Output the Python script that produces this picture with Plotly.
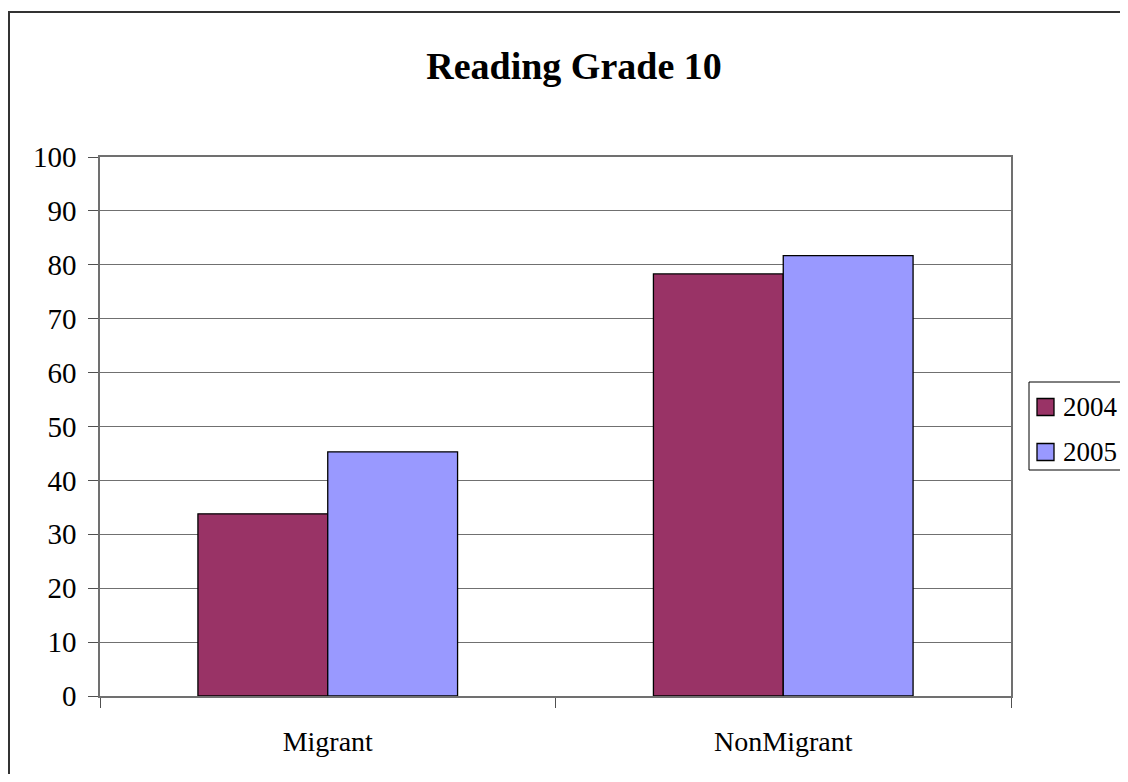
import plotly.graph_objects as go

categories = ["Migrant", "NonMigrant"]
series_names = ["2004", "2005"]
values_2004 = [33.8, 78.3]
values_2005 = [45.3, 81.7]
colors = ["#993366", "#9999FF"]
y_ticks = [0, 10, 20, 30, 40, 50, 60, 70, 80, 90, 100]

# figure is placed by the page with an 8px body margin
W, H = 1112, 766
L, R, T, B = 92, 109, 149, 78
pw, ph = W - L - R, H - T - B


def px(fx):
    return (fx - L) / pw


def py(fy):
    return (H - B - fy) / ph


fig = go.Figure()
for name, vals, col in zip(series_names, [values_2004, values_2005], colors):
    fig.add_trace(go.Bar(
        x=categories, y=vals, name=name, showlegend=False,
        marker=dict(color=col, line=dict(color="black", width=1.3)),
    ))

font = "Liberation Serif, Times New Roman, serif"

fig.update_layout(
    width=W, height=H,
    margin=dict(l=L, r=R, t=T, b=B, pad=0, autoexpand=False),
    paper_bgcolor="white", plot_bgcolor="white",
    barmode="group", bargap=0.43, bargroupgap=0,
    font=dict(family=font, size=28, color="black"),
    title=dict(text="<b>Reading Grade 10</b>", x=566 / W, xanchor="center",
               y=1 - 58 / H, yanchor="middle",
               font=dict(family=font, size=38, color="black")),
    showlegend=False,
)

fig.update_yaxes(range=[0, 100], tickvals=y_ticks, showgrid=True, gridcolor="#707070", gridwidth=1,
                 showline=True, linecolor="#707070", linewidth=1.5, mirror=True,
                 ticks="outside", ticklen=10, tickcolor="#505050", zeroline=False,
                 ticklabelstandoff=6, tickfont=dict(size=29), fixedrange=True)
fig.update_xaxes(showline=True, linecolor="#707070", linewidth=1.5, mirror=True,
                 ticks="outside", ticklen=10, tickcolor="#505050", tickson="boundaries",
                 ticklabelstandoff=20, fixedrange=True)

# outer chart frame
fig.add_shape(type="rect", xref="paper", yref="paper",
              x0=px(1), x1=px(W + 40), y0=py(H + 40), y1=py(4),
              line=dict(color="#333333", width=2), fillcolor="rgba(0,0,0,0)", layer="above")

# legend box (running off the right edge, as in the reference)
fig.add_shape(type="rect", xref="paper", yref="paper",
              x0=px(1021), x1=px(W + 40), y0=py(462), y1=py(374),
              line=dict(color="black", width=1), fillcolor="white", layer="above")
row_centers = [399, 444]
for name, col, cy in zip(series_names, colors, row_centers):
    fig.add_shape(type="rect", xref="paper", yref="paper",
                  x0=px(1029), x1=px(1046), y0=py(cy + 8.5), y1=py(cy - 8.5),
                  line=dict(color="black", width=1.3), fillcolor=col, layer="above")
    fig.add_annotation(text=name, xref="paper", yref="paper", x=px(1053), y=py(cy),
                       xanchor="left", yanchor="middle", showarrow=False,
                       font=dict(family=font, size=27, color="black"))

fig.write_html("out.html")
